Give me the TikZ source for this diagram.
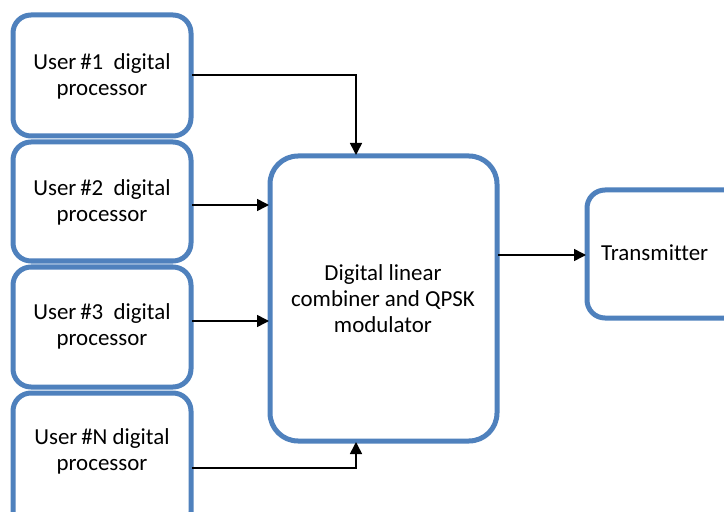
\documentclass[tikz,border=0pt]{standalone}
\usepackage{fontspec}
\setmainfont[Ligatures=NoCommon]{Carlito}
\usetikzlibrary{arrows.meta}
\definecolor{boxblue}{HTML}{4F81BD}
\begin{document}
\begin{tikzpicture}[x=1bp,y=-1bp,
  blk/.style={draw=boxblue,line width=5bp,rounded corners=18bp,fill=white},
  lbl/.style={align=center,font=\fontsize{23}{26}\selectfont,inner sep=0pt},
  conn/.style={line width=1.6bp,-{Triangle[length=12bp,width=12bp]}}]
\useasboundingbox (0,0) rectangle (724,512);
\clip (0,0) rectangle (724,512);
% user boxes
\draw[blk] (13,15) rectangle (191,136);
\draw[blk] (13,142) rectangle (191,261);
\draw[blk] (13,267) rectangle (191,387);
\draw[blk] (13,393) rectangle (191,530);
\node[lbl] (u1) at (102,76) {User\,\#1\ \ digital\\processor};
\node[lbl] (u2) at (102,202) {User\,\#2\ \ digital\\processor};
\node[lbl] (u3) at (102,326) {User\,\#3\ \ digital\\processor};
\node[lbl] (un) at (102,451) {User\,\#N digital\\processor};
% center box
\draw[blk,rounded corners=28bp] (270,156) rectangle (497,441);
\node[lbl] (c) at (383,299) {Digital linear\\combiner and QPSK\\modulator};
% transmitter
\draw[blk] (587,190) rectangle (745,318);
\node[lbl,anchor=west] (t) at (601,253) {Transmitter};
% named anchors
\coordinate (u1o) at (192,75);
\coordinate (u2o) at (192,205);
\coordinate (u3o) at (192,321);
\coordinate (uno) at (192,468);
\coordinate (ctop) at (356,155);
\coordinate (cbot) at (356,442);
\coordinate (cl2) at (269,205);
\coordinate (cl3) at (269,321);
\coordinate (cr) at (498,255);
\coordinate (tl) at (586,255);
% connectors
\draw[conn] (u1o) -| (ctop);
\draw[conn] (u2o) -- (cl2);
\draw[conn] (u3o) -- (cl3);
\draw[conn] (uno) -| (cbot);
\draw[conn] (cr) -- (tl);
\end{tikzpicture}
\end{document}
